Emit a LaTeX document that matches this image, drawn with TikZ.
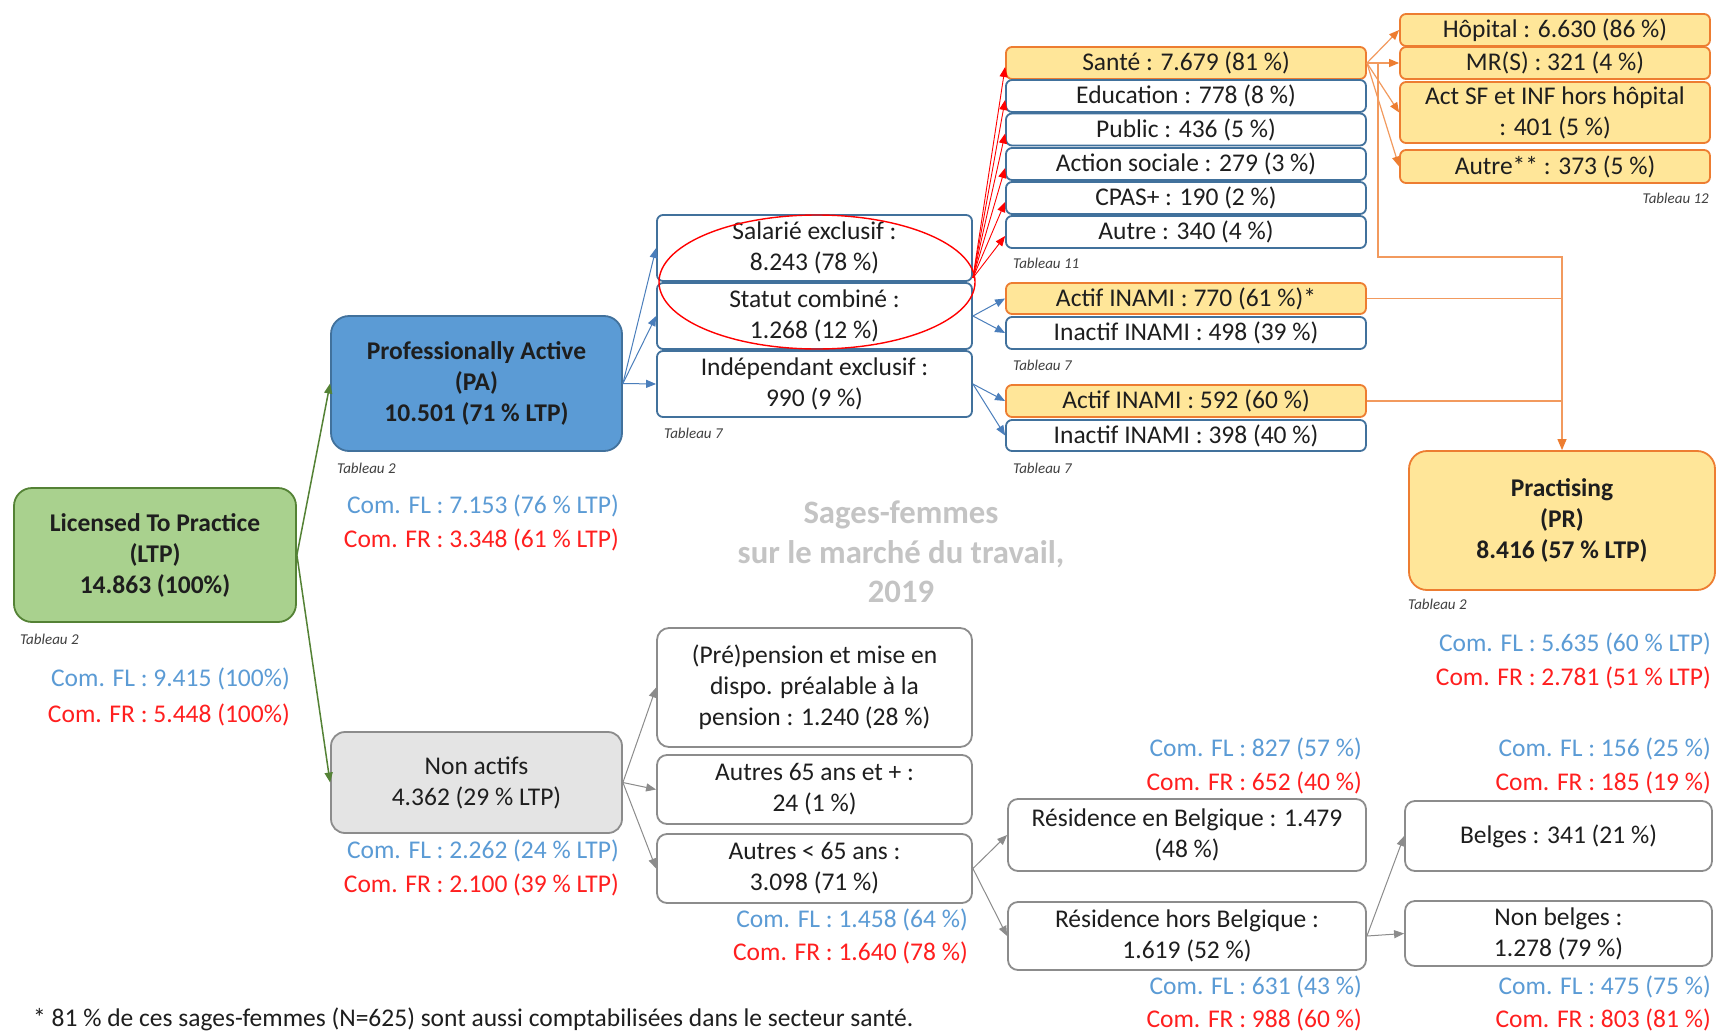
\documentclass[tikz,border=0pt]{standalone}
\usepackage{fontspec}
\setmainfont{Carlito}
\usetikzlibrary{arrows.meta}
\definecolor{txt}{HTML}{1E1E1E}
\definecolor{grnfill}{HTML}{A9D18E}
\definecolor{grnbd}{HTML}{548235}
\definecolor{bluefill}{HTML}{5B9BD5}
\definecolor{bluebd}{HTML}{41719C}
\definecolor{bluear}{HTML}{4A7EBB}
\definecolor{orfill}{HTML}{FFE699}
\definecolor{orbd}{HTML}{ED7D31}
\definecolor{orline}{HTML}{F29A5E}
\definecolor{graybd}{HTML}{8C8C8C}
\definecolor{grayfill}{HTML}{E4E4E4}
\definecolor{flc}{HTML}{5B9BD5}
\definecolor{frc}{HTML}{FF1F1F}
\definecolor{titc}{HTML}{C4C4C4}
\definecolor{tabc}{HTML}{404040}
\newcommand\myfn{\fontsize{25.5}{31}\selectfont}
\newcommand\mytab{\fontsize{15}{18}\selectfont\itshape}
\newcommand\mytitle{\fontsize{32.7}{39.5}\selectfont\bfseries}
\tikzset{
  bx/.style={draw, rounded corners=6pt, line width=1.8pt, align=center, inner sep=0pt, font=\myfn, text=txt},
  bluebx/.style={bx, draw=bluebd, fill=white},
  orbx/.style={bx, draw=orbd, fill=orfill},
  graybx/.style={bx, draw=graybd, fill=white},
  bigbx/.style={bx, rounded corners=18pt, font=\myfn\bfseries},
  flt/.style={inner sep=0pt, font=\myfn, text=flc, anchor=east},
  frt/.style={inner sep=0pt, font=\myfn, text=frc, anchor=east},
  tabt/.style={inner sep=0pt, font=\mytab, text=tabc, anchor=west},
  tip/.style={-{Triangle[length=10pt,width=8pt]}},
  greenar/.style={tip, draw=grnbd, line width=1.5pt},
  bluearr/.style={tip, draw=bluear, line width=1pt},
  redar/.style={tip, draw=red, line width=0.9pt},
  grayar/.style={tip, draw=graybd, line width=1pt},
  orar/.style={draw=orline, line width=1.2pt},
}
\begin{document}
\begin{tikzpicture}[x=1pt, y=-1pt]
\fill[white] (0,0) rectangle (1718,1033);
\useasboundingbox (0,0) rectangle (1718,1033);

% title watermark
\node[align=center, inner sep=0pt, font=\mytitle, text=titc] (title) at (901,552) {Sages-femmes\\sur le marché du travail,\\2019};

% main boxes
\node[bigbx, draw=grnbd, fill=grnfill, minimum width=282pt, minimum height=134pt] (ltp) at (155,555) {Licensed To Practice\\(LTP)\\14.863 (100\%)};
\node[bigbx, draw=bluebd, fill=bluefill, minimum width=291pt, minimum height=135pt] (pa) at (476.5,383.5) {Professionally Active\\(PA)\\10.501 (71 \% LTP)};
\node[bx, rounded corners=14pt, draw=graybd, fill=grayfill, minimum width=291pt, minimum height=101pt] (na) at (476.5,782.5) {Non actifs\\4.362 (29 \% LTP)};
\node[bigbx, draw=orbd, fill=orfill, minimum width=306pt, minimum height=139pt] (pr) at (1562,520.5) {Practising\\(PR)\\8.416 (57 \% LTP)};

% PA children
\node[bluebx, minimum width=315pt, minimum height=66pt] (sal) at (814.5,248) {Salarié exclusif :\\8.243 (78 \%)};
\node[bluebx, minimum width=315pt, minimum height=66pt] (stat) at (814.5,316) {Statut combiné :\\1.268 (12 \%)};
\node[bluebx, minimum width=315pt, minimum height=66pt] (ind) at (814.5,384) {Indépendant exclusif :\\990 (9 \%)};

% sectors
\node[orbx, minimum width=360pt, minimum height=32pt] (sante) at (1186,63) {Santé : 7.679 (81 \%)};
\node[bluebx, minimum width=360pt, minimum height=32pt] (edu) at (1186,96) {Education : 778 (8 \%)};
\node[bluebx, minimum width=360pt, minimum height=32pt] (pub) at (1186,129.5) {Public : 436 (5 \%)};
\node[bluebx, minimum width=360pt, minimum height=32pt] (act) at (1186,164) {Action sociale : 279 (3 \%)};
\node[bluebx, minimum width=360pt, minimum height=32pt] (cpas) at (1186,198) {CPAS+ : 190 (2 \%)};
\node[bluebx, minimum width=360pt, minimum height=32pt] (aut) at (1186,232) {Autre : 340 (4 \%)};

% INAMI
\node[orbx, minimum width=360pt, minimum height=31pt] (a770) at (1186,298.5) {Actif INAMI : 770 (61 \%)*};
\node[bluebx, minimum width=360pt, minimum height=32pt] (i498) at (1186,333) {Inactif INAMI : 498 (39 \%)};
\node[orbx, minimum width=360pt, minimum height=32pt] (a592) at (1186,401) {Actif INAMI : 592 (60 \%)};
\node[bluebx, minimum width=360pt, minimum height=31pt] (i398) at (1186,435.5) {Inactif INAMI : 398 (40 \%)};

% sante children
\node[orbx, minimum width=310pt, minimum height=32pt] (hop) at (1555,30) {Hôpital : 6.630 (86 \%)};
\node[orbx, minimum width=310pt, minimum height=32pt] (mrs) at (1555,63) {MR(S) : 321 (4 \%)};
\node[orbx, minimum width=310pt, minimum height=61pt] (actsf) at (1555,112.5) {Act SF et INF hors hôpital\\: 401 (5 \%)};
\node[orbx, minimum width=310pt, minimum height=33pt] (aut2) at (1555,166.5) {Autre** : 373 (5 \%)};

% Non actifs children
\node[graybx, minimum width=315pt, minimum height=119pt, rounded corners=12pt] (pre) at (814.5,687.5) {(Pré)pension et mise en\\dispo. préalable à la\\pension : 1.240 (28 \%)};
\node[graybx, minimum width=315pt, minimum height=69pt, rounded corners=10pt] (a65) at (814.5,789.5) {Autres 65 ans et + :\\24 (1 \%)};
\node[graybx, minimum width=315pt, minimum height=69pt, rounded corners=10pt] (b65) at (814.5,868.5) {Autres < 65 ans :\\3.098 (71 \%)};
\node[graybx, minimum width=358pt, minimum height=72pt, rounded corners=10pt] (rbe) at (1187,835) {Résidence en Belgique : 1.479\\(48 \%)};
\node[graybx, minimum width=358pt, minimum height=68pt, rounded corners=10pt] (rhb) at (1187,936) {Résidence hors Belgique :\\1.619 (52 \%)};
\node[graybx, minimum width=307pt, minimum height=70pt, rounded corners=10pt] (bel) at (1558.5,836) {Belges : 341 (21 \%)};
\node[graybx, minimum width=307pt, minimum height=65pt, rounded corners=10pt] (nbel) at (1558.5,933.5) {Non belges :\\1.278 (79 \%)};

% ellipse
\draw[red, line width=1.4pt] (817,282) ellipse [x radius=158pt, y radius=67pt];

% arrows
\draw[greenar] (ltp.east) -- (pa.west);
\draw[greenar] (ltp.east) -- (na.west);
\draw[bluearr] (pa.east) -- (sal.west);
\draw[bluearr] (pa.east) -- (stat.west);
\draw[bluearr] (pa.east) -- (ind.west);
\coordinate (rs) at ([yshift=4pt]sal.south east);
\foreach \t in {sante,edu,pub,act,cpas,aut} \draw[redar] (rs) -- ([yshift=-4pt]\t.west);
\draw[bluearr] (stat.east) -- (a770.west);
\draw[bluearr] (stat.east) -- (i498.west);
\draw[bluearr] (ind.east) -- (a592.west);
\draw[bluearr] (ind.east) -- (i398.west);
\foreach \t in {hop,mrs,actsf,aut2} \draw[orar, -{Triangle[length=10pt,width=8pt,color=orbd]}] (sante.east) -- (\t.west);
\coordinate (vt) at (1378,63);
\coordinate (vb) at (1378,257);
\draw[orar, -{Triangle[length=11pt,width=9pt,color=orbd]}] (sante.east) -- (vt) -- (vb) -| (pr.north);
\draw[orar] (a770.east) -- (a770.east -| pr.north);
\draw[orar] (a592.east) -- (a592.east -| pr.north);
\draw[grayar] (na.east) -- (pre.west);
\draw[grayar] (na.east) -- (a65.west);
\draw[grayar] (na.east) -- (b65.west);
\draw[grayar] (b65.east) -- (rbe.west);
\draw[grayar] (b65.east) -- (rhb.west);
\draw[grayar] (rhb.east) -- (bel.west);
\draw[grayar] (rhb.east) -- (nbel.west);

% Com labels
\node[flt] (fl1) at (290,679) {Com. FL : 9.415 (100\%)};
\node[frt] (fr1) at (290,715) {Com. FR : 5.448 (100\%)};
\node[flt] (fl2) at (619,506) {Com. FL : 7.153 (76 \% LTP)};
\node[frt] (fr2) at (619,540) {Com. FR : 3.348 (61 \% LTP)};
\node[flt] (fl3) at (619,851) {Com. FL : 2.262 (24 \% LTP)};
\node[frt] (fr3) at (619,885) {Com. FR : 2.100 (39 \% LTP)};
\node[flt] (fl4) at (968,920) {Com. FL : 1.458 (64 \%)};
\node[frt] (fr4) at (968,953) {Com. FR : 1.640 (78 \%)};
\node[flt] (fl5) at (1362,749) {Com. FL : 827 (57 \%)};
\node[frt] (fr5) at (1362,783) {Com. FR : 652 (40 \%)};
\node[flt] (fl6) at (1362,987) {Com. FL : 631 (43 \%)};
\node[frt] (fr6) at (1362,1020) {Com. FR : 988 (60 \%)};
\node[flt] (fl7) at (1711,749) {Com. FL : 156 (25 \%)};
\node[frt] (fr7) at (1711,783) {Com. FR : 185 (19 \%)};
\node[flt] (fl8) at (1711,987) {Com. FL : 475 (75 \%)};
\node[frt] (fr8) at (1711,1020) {Com. FR : 803 (81 \%)};
\node[flt] (fl9) at (1711,644) {Com. FL : 5.635 (60 \% LTP)};
\node[frt] (fr9) at (1711,678) {Com. FR : 2.781 (51 \% LTP)};

% Tableau labels
\node[tabt] (t1) at (20,639) {Tableau 2};
\node[tabt] (t2) at (337,468) {Tableau 2};
\node[tabt] (t3) at (664,433) {Tableau 7};
\node[tabt] (t4) at (1013,263) {Tableau 11};
\node[tabt] (t5) at (1013,365) {Tableau 7};
\node[tabt] (t6) at (1013,468) {Tableau 7};
\node[tabt, anchor=east] (t7) at (1709,198) {Tableau 12};
\node[tabt] (t8) at (1408,604) {Tableau 2};

% footnote
\node[inner sep=0pt, anchor=west, font=\myfn, text=txt] (foot) at (33,1019) {* 81 \% de ces sages-femmes (N=625) sont aussi comptabilisées dans le secteur santé.};
\end{tikzpicture}
\end{document}
